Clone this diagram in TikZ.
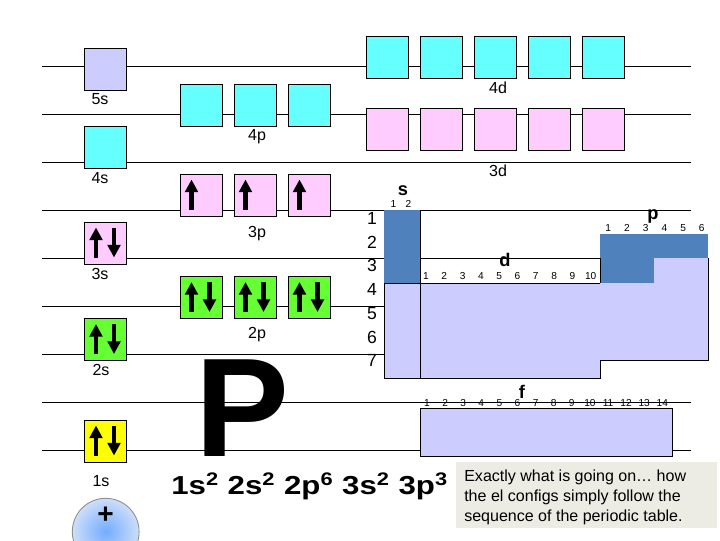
\documentclass[tikz,border=0pt]{standalone}
\usepackage{fontspec}
\setmainfont{Liberation Sans}
\usetikzlibrary{arrows.meta,calc}
\definecolor{lav}{HTML}{CCCCFF}
\definecolor{aqua}{HTML}{66FFFF}
\definecolor{rose}{HTML}{FFCCFF}
\definecolor{lime}{HTML}{66FF33}
\definecolor{sun}{HTML}{FFFF00}
\definecolor{tabblue}{HTML}{4F81BD}
\definecolor{notegray}{HTML}{ECEBE4}
\tikzset{
  level/.style={line width=0.7pt, draw=black},
  orb/.style={draw=black, line width=0.7pt, minimum width=1.05cm, minimum height=1.05cm, inner sep=0pt},
  orblabel/.style={font=\fontsize{11.4}{11.4}\selectfont, anchor=base, inner sep=0pt},
  spin/.style={line width=3.4pt, -{Triangle[width=9pt,length=9pt]}},
  tabedge/.style={draw=black, line width=0.7pt},
  rownum/.style={font=\fontsize{12.5}{12.5}\selectfont, anchor=base, inner sep=0pt},
  blocklabel/.style={font=\fontsize{13}{13}\selectfont\bfseries, anchor=base, inner sep=0pt},
  colnum/.style={font=\fontsize{7.2}{7.2}\selectfont, anchor=base, inner sep=0pt},
}

\begin{document}
\begin{tikzpicture}[x=0.025cm, y=-0.025cm]
\useasboundingbox (0,0) rectangle (720,540);
% energy levels
\draw[level] (42,66) -- (691,66);
\draw[level] (42,114) -- (691,114);
\draw[level] (42,162) -- (691,162);
\draw[level] (42,210) -- (691,210);
\draw[level] (42,258) -- (600,258);
\draw[level] (42,306) -- (691,306);
\draw[level] (42,354) -- (691,354);
\draw[level] (42,402) -- (691,402);
\draw[level] (42,450) -- (691,450);
% s orbitals
\node[orb, fill=lav] (b5s) at (105.5,69) {};
\node[orb, fill=aqua] (b4s) at (105.5,147.5) {};
\node[orb, fill=rose] (b3s) at (105.5,243) {};
\node[orb, fill=lime] (b2s) at (105.5,339.5) {};
\node[orb, fill=sun] (b1s) at (105.5,441) {};
% p orbitals
\node[orb, fill=aqua] (b4pa) at (201,105.5) {};
\node[orb, fill=aqua] (b4pb) at (255,105.5) {};
\node[orb, fill=aqua] (b4pc) at (309,105.5) {};
\node[orb, fill=rose] (b3pa) at (201,195) {};
\node[orb, fill=rose] (b3pb) at (255,195) {};
\node[orb, fill=rose] (b3pc) at (309,195) {};
\node[orb, fill=lime] (b2pa) at (201,297.5) {};
\node[orb, fill=lime] (b2pb) at (255,297.5) {};
\node[orb, fill=lime] (b2pc) at (309,297.5) {};
% d orbitals
\node[orb, fill=aqua] (b4da) at (387.5,57.5) {};
\node[orb, fill=aqua] (b4db) at (441.5,57.5) {};
\node[orb, fill=aqua] (b4dc) at (495.5,57.5) {};
\node[orb, fill=aqua] (b4dd) at (549.5,57.5) {};
\node[orb, fill=aqua] (b4de) at (603.5,57.5) {};
\node[orb, fill=rose] (b3da) at (387.5,129) {};
\node[orb, fill=rose] (b3db) at (441.5,129) {};
\node[orb, fill=rose] (b3dc) at (495.5,129) {};
\node[orb, fill=rose] (b3dd) at (549.5,129) {};
\node[orb, fill=rose] (b3de) at (603.5,129) {};
% orbital labels
\node[orblabel] (l5s) at (100,104) {5s};
\node[orblabel] (l4s) at (100,183) {4s};
\node[orblabel] (l3s) at (100,279) {3s};
\node[orblabel] (l2s) at (101,375) {2s};
\node[orblabel] (l1s) at (101,486) {1s};
\node[orblabel] (l4p) at (257,140) {4p};
\node[orblabel] (l3p) at (257,237) {3p};
\node[orblabel] (l2p) at (257,338) {2p};
\node[orblabel] (l4d) at (498,93) {4d};
\node[orblabel] (l3d) at (498,176.5) {3d};
% electrons
\draw[spin] ($(b1s.north west)+(12,36)$) -- ($(b1s.north west)+(12,6)$);
\draw[spin] ($(b1s.north west)+(30,6)$) -- ($(b1s.north west)+(30,36)$);
\draw[spin] ($(b2s.north west)+(12,36)$) -- ($(b2s.north west)+(12,6)$);
\draw[spin] ($(b2s.north west)+(30,6)$) -- ($(b2s.north west)+(30,36)$);
\draw[spin] ($(b3s.north west)+(12,36)$) -- ($(b3s.north west)+(12,6)$);
\draw[spin] ($(b3s.north west)+(30,6)$) -- ($(b3s.north west)+(30,36)$);
\draw[spin] ($(b2pa.north west)+(12,36)$) -- ($(b2pa.north west)+(12,6)$);
\draw[spin] ($(b2pa.north west)+(30,6)$) -- ($(b2pa.north west)+(30,36)$);
\draw[spin] ($(b2pb.north west)+(12,36)$) -- ($(b2pb.north west)+(12,6)$);
\draw[spin] ($(b2pb.north west)+(30,6)$) -- ($(b2pb.north west)+(30,36)$);
\draw[spin] ($(b2pc.north west)+(12,36)$) -- ($(b2pc.north west)+(12,6)$);
\draw[spin] ($(b2pc.north west)+(30,6)$) -- ($(b2pc.north west)+(30,36)$);
\draw[spin] ($(b3pa.north west)+(12,36)$) -- ($(b3pa.north west)+(12,6)$);
\draw[spin] ($(b3pb.north west)+(12,36)$) -- ($(b3pb.north west)+(12,6)$);
\draw[spin] ($(b3pc.north west)+(12,36)$) -- ($(b3pc.north west)+(12,6)$);
% element symbol and configuration
\node[font=\fontsize{100}{100}\selectfont\bfseries, anchor=base west, inner sep=0pt] (symbol) at (195,456.5) {P};
\node[font=\fontsize{18.5}{18.5}\selectfont\bfseries, anchor=base west, inner sep=0pt] (config) at (171,494) {\scalebox{1.2}[1]{1s\textsuperscript{2} 2s\textsuperscript{2} 2p\textsuperscript{6} 3s\textsuperscript{2} 3p\textsuperscript{3}}};
% nucleus
\node[circle, minimum size=1.67cm, draw=black!45, line width=0.6pt, inner color={rgb,255:red,115;green,172;blue,255}, outer color={rgb,255:red,205;green,222;blue,248}] (nucleus) at (105.7,531.7) {};
\node[font=\fontsize{20}{20}\selectfont\bfseries, inner sep=0pt] (plus) at (105.7,515) {+};
% periodic table blocks
\fill[tabblue] (384,210) rectangle (420,283);
\draw[tabedge, fill=lav] (384,283) rectangle (420,378);
\draw[tabedge] (420,210) -- (420,283);
\draw[tabedge, fill=lav] (420,283) rectangle (600,378);
\fill[tabblue] (600,234) rectangle (708,258);
\fill[tabblue] (600,258) rectangle (654,283);
\fill[lav] (600,283) -- (654,283) -- (654,258) -- (708,258) -- (708,360) -- (600,360) -- cycle;
\draw[tabedge] (708,258) -- (708,360) -- (600,360);
\draw[tabedge] (600,258) -- (600,283);
\draw[tabedge, fill=lav] (420,408) rectangle (672,456);
% period numbers
\node[rownum] (r1) at (372,224.5) {1};
\node[rownum] (r2) at (372,248.2) {2};
\node[rownum] (r3) at (372,271.9) {3};
\node[rownum] (r4) at (372,295.6) {4};
\node[rownum] (r5) at (372,319.3) {5};
\node[rownum] (r6) at (372,343) {6};
\node[rownum] (r7) at (372,366.7) {7};
% block names
\node[blocklabel] (ls) at (403,195) {s};
\node[blocklabel] (ld) at (505,266.7) {d};
\node[blocklabel] (lp) at (653,219) {p};
\node[blocklabel] (lf) at (522,398) {f};
% column numbers
\node[colnum] (s1) at (393.5,207.3) {1};
\node[colnum] (s2) at (408.5,207.3) {2};
\node[colnum] (d1) at (426,279.3) {1};
\node[colnum] (d2) at (444.3,279.3) {2};
\node[colnum] (d3) at (462.6,279.3) {3};
\node[colnum] (d4) at (480.9,279.3) {4};
\node[colnum] (d5) at (499.2,279.3) {5};
\node[colnum] (d6) at (517.5,279.3) {6};
\node[colnum] (d7) at (535.8,279.3) {7};
\node[colnum] (d8) at (554.1,279.3) {8};
\node[colnum] (d9) at (572.4,279.3) {9};
\node[colnum] (d10) at (590.7,279.3) {10};
\node[colnum] (p1) at (608.3,231) {1};
\node[colnum] (p2) at (627,231) {2};
\node[colnum] (p3) at (645.7,231) {3};
\node[colnum] (p4) at (664.4,231) {4};
\node[colnum] (p5) at (683.1,231) {5};
\node[colnum] (p6) at (701.8,231) {6};
\node[colnum] (f1) at (427,406.7) {1};
\node[colnum] (f2) at (445.1,406.7) {2};
\node[colnum] (f3) at (463.2,406.7) {3};
\node[colnum] (f4) at (481.3,406.7) {4};
\node[colnum] (f5) at (499.4,406.7) {5};
\node[colnum] (f6) at (517.5,406.7) {6};
\node[colnum] (f7) at (535.6,406.7) {7};
\node[colnum] (f8) at (553.7,406.7) {8};
\node[colnum] (f9) at (571.8,406.7) {9};
\node[colnum] (f10) at (589.9,406.7) {10};
\node[colnum] (f11) at (608,406.7) {11};
\node[colnum] (f12) at (626.1,406.7) {12};
\node[colnum] (f13) at (644.2,406.7) {13};
\node[colnum] (f14) at (662.3,406.7) {14};
% note
\fill[notegray] (456,462) rectangle (717,528);
\node[font=\fontsize{11.4}{14.2}\selectfont, align=left, anchor=north west, inner sep=0pt] (note) at (464,470) {Exactly what is going on… how\\the el configs simply follow the\\sequence of the periodic table.};
\end{tikzpicture}
\end{document}
